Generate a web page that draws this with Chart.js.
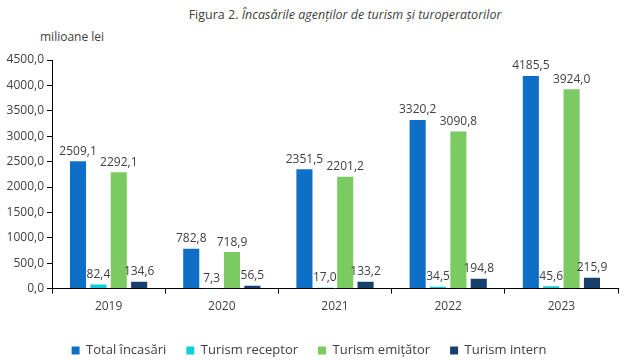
<!DOCTYPE html>
<html>
<head>
<meta charset="utf-8">
<script src="https://cdn.jsdelivr.net/npm/chart.js@4.4.1/dist/chart.umd.min.js"></script>
<style>
  html, body { margin: 0; padding: 0; background: #fff; }
  #wrap { position: relative; width: 624px; height: 361px; font-family: "Open Sans", sans-serif; color: #404040; }
  #title { position: absolute; top: 6px; left: 0; width: 690px; text-align: center; font-size: 12.5px; }
  #unit { position: absolute; top: 28px; left: 40px; font-size: 12px; }
  canvas { position: absolute; left: 0; top: 0; }
</style>
</head>
<body>
<div id="wrap">
  <div id="title">Figura 2. <i>Încasările agenților de turism și turoperatorilor</i></div>
  <div id="unit">milioane lei</div>
  <canvas id="myChart" width="624" height="361"></canvas>
</div>
<script>
// date (milioane lei)
const years = ['2019', '2020', '2021', '2022', '2023'];
const totalIncasari = [2509.1, 782.8, 2351.5, 3320.2, 4185.5];
const turismReceptor = [82.4, 7.3, 17.0, 34.5, 45.6];
const turismEmitator = [2292.1, 718.9, 2201.2, 3090.8, 3924.0];
const turismIntern = [134.6, 56.5, 133.2, 194.8, 215.9];

const textColor = '#404040';
const fmt = v => v.toFixed(1).replace('.', ',');

// etichete deasupra barelor
const barLabels = {
    id: 'barLabels',
    afterDatasetsDraw(chart) {
        const ctx = chart.ctx;
        ctx.save();
        ctx.font = '12px "Open Sans", sans-serif';
        ctx.fillStyle = textColor;
        ctx.textAlign = 'center';
        ctx.textBaseline = 'bottom';
        chart.data.datasets.forEach((ds, i) => {
            chart.getDatasetMeta(i).data.forEach((bar, j) => {
                ctx.fillText(fmt(ds.data[j]), bar.x, bar.y - 4);
            });
        });
        ctx.restore();
    }
};

let data = {
    labels: years,
    datasets: [
        { label: 'Total încasări', data: totalIncasari, backgroundColor: '#0F6FC6' },
        { label: 'Turism receptor', data: turismReceptor, backgroundColor: '#0BD0D9' },
        { label: 'Turism emițător', data: turismEmitator, backgroundColor: '#7CCA62' },
        { label: 'Turism intern', data: turismIntern, backgroundColor: '#17406D' }
    ]
};

let config = {
    type: 'bar',
    data,
    options: {
        responsive: false,
        animation: false,
        datasets: { bar: { categoryPercentage: 0.72, barPercentage: 0.79 } },
        layout: { padding: { top: 60, right: 6, left: 0, bottom: -6 } },
        scales: {
            x: {
                afterFit(axis) { axis.height += 4; },
                grid: { drawOnChartArea: false, drawTicks: true, tickLength: 5, color: '#000', offset: true },
                border: { display: true, color: '#000' },
                ticks: { color: textColor, font: { family: 'Open Sans', size: 12 }, padding: 6 }
            },
            y: {
                min: 0,
                max: 4500,
                afterFit(axis) { axis.width = 52; },
                grid: { drawOnChartArea: false, drawTicks: true, tickLength: 5, color: '#000' },
                border: { display: true, color: '#000' },
                ticks: { stepSize: 500, color: textColor, font: { family: 'Open Sans', size: 12 }, padding: 3,
                         callback: v => fmt(v) }
            }
        },
        plugins: {
            legend: {
                position: 'bottom',
                labels: { boxWidth: 8, boxHeight: 8, padding: 20, color: textColor,
                          font: { family: 'Open Sans', size: 13 } }
            },
            tooltip: { enabled: false }
        }
    },
    plugins: [barLabels]
};

let myChart = new Chart(document.getElementById('myChart'), config);
</script>
</body>
</html>
